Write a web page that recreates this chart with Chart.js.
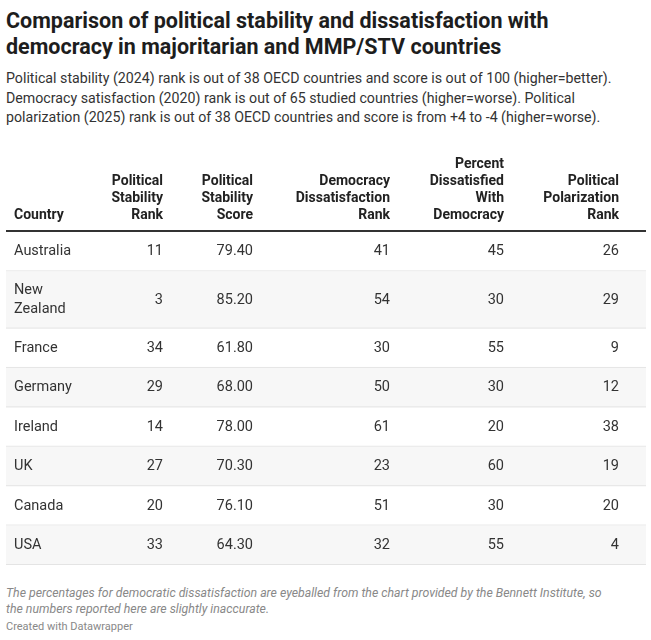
<!DOCTYPE html>
<html lang="en">
<head>
<meta charset="UTF-8" />
<title>Political stability and dissatisfaction with democracy</title>
<script src="https://cdn.jsdelivr.net/npm/chart.js"></script>
<style>
  body { margin: 0; background: #fff; font-family: Roboto, sans-serif; color: #222; width: 651px; }
  h1 { font-size: 21.5px; line-height: 26px; margin: 0; padding: 8px 14px 0 6px; font-weight: 700; color: #1d1d1d; }
  .sub { font-size: 14.2px; line-height: 19.5px; margin: 9px 0 0 6px; color: #333; }
  #wrap { position: absolute; top: 150px; left: 0; }
  .note { position: absolute; top: 585px; left: 6px; font-size: 12.3px; line-height: 16px; font-style: italic; color: #888; width: 600px; }
  .credit { position: absolute; top: 620px; left: 6px; font-size: 11px; color: #888; }
</style>
</head>
<body>
<h1>Comparison of political stability and dissatisfaction with democracy in majoritarian and MMP/STV countries</h1>
<div class="sub">Political stability (2024) rank is out of 38 OECD countries and score is out of 100 (higher=better). Democracy satisfaction (2020) rank is out of 65 studied countries (higher=worse). Political polarization (2025) rank is out of 38 OECD countries and score is from +4 to -4 (higher=worse).</div>
<div id="wrap"><canvas id="tabla" width="651" height="416"></canvas></div>
<div class="note">The percentages for democratic dissatisfaction are eyeballed from the chart provided by the Bennett Institute, so the numbers reported here are slightly inaccurate.</div>
<div class="credit">Created with Datawrapper</div>
<script>
const countries = [["Australia"], ["New", "Zealand"], ["France"], ["Germany"], ["Ireland"], ["UK"], ["Canada"], ["USA"]];
const stabilityRank = [11, 3, 34, 29, 14, 27, 20, 33];
const stabilityScore = ["79.40", "85.20", "61.80", "68.00", "78.00", "70.30", "76.10", "64.30"];
const dissatRank = [41, 54, 30, 50, 61, 23, 51, 32];
const pctDissat = [45, 30, 55, 30, 20, 60, 30, 55];
const polarRank = [26, 29, 9, 12, 38, 19, 20, 4];
const headers = [
  ["Country"],
  ["Political", "Stability", "Rank"],
  ["Political", "Stability", "Score"],
  ["Democracy", "Dissatisfaction", "Rank"],
  ["Percent", "Dissatisfied", "With", "Democracy"],
  ["Political", "Polarization", "Rank"]
];

// column anchors on the x scale (0..651)
const columns = [
  { x: 14, align: "left", values: countries },
  { x: 163, align: "right", values: stabilityRank },
  { x: 253, align: "right", values: stabilityScore },
  { x: 390, align: "right", values: dissatRank },
  { x: 504, align: "right", values: pctDissat },
  { x: 619, align: "right", values: polarRank }
];

// row boundaries in scale units: taller rows for wrapped labels
const bounds = [0];
countries.forEach(c => bounds.push(bounds[bounds.length - 1] + 1 + 0.45 * (c.length - 1)));

const tablePlugin = {
  id: "tabla",
  beforeDraw(chart) {
    const { ctx, chartArea, scales: { x, y } } = chart;
    ctx.save();
    // stripes and separators
    countries.forEach((c, i) => {
      const top = y.getPixelForValue(bounds[i]);
      const bot = y.getPixelForValue(bounds[i + 1]);
      if (i % 2 === 1) {
        ctx.fillStyle = "#f7f7f7";
        ctx.fillRect(chartArea.left, top, chartArea.right - chartArea.left, bot - top);
      }
      ctx.fillStyle = "#e4e4e4";
      ctx.fillRect(chartArea.left, bot - 1, chartArea.right - chartArea.left, 1);
    });
    ctx.fillStyle = "#333";
    ctx.fillRect(chartArea.left, chartArea.top - 2, chartArea.right - chartArea.left, 2);

    // header
    ctx.font = "bold 14px Roboto";
    ctx.fillStyle = "#222";
    ctx.textBaseline = "alphabetic";
    headers.forEach((h, ci) => {
      const col = columns[ci];
      ctx.textAlign = col.align;
      h.forEach((line, li) => {
        ctx.fillText(line, x.getPixelForValue(col.x), chartArea.top - 13 - (h.length - 1 - li) * 17);
      });
    });

    // cells
    ctx.font = "14.5px Roboto";
    ctx.fillStyle = "#333";
    ctx.textBaseline = "middle";
    columns.forEach(col => {
      ctx.textAlign = col.align;
      col.values.forEach((v, i) => {
        const mid = y.getPixelForValue((bounds[i] + bounds[i + 1]) / 2);
        const lines = Array.isArray(v) ? v : [String(v)];
        lines.forEach((line, li) => {
          ctx.fillText(line, x.getPixelForValue(col.x), mid + (li - (lines.length - 1) / 2) * 19);
        });
      });
    });
    ctx.restore();
  }
};

new Chart(document.getElementById("tabla").getContext("2d"), {
  type: "scatter",
  data: { datasets: [{ data: [] }] },
  options: {
    responsive: false,
    animation: false,
    layout: { padding: { top: 82, bottom: 1, left: 6, right: 5 } },
    plugins: { legend: { display: false }, tooltip: { enabled: false } },
    scales: {
      x: { type: "linear", min: 6, max: 646, display: false },
      y: { type: "linear", min: 0, max: bounds[bounds.length - 1], reverse: true, display: false }
    }
  },
  plugins: [tablePlugin]
});
</script>
</body>
</html>
